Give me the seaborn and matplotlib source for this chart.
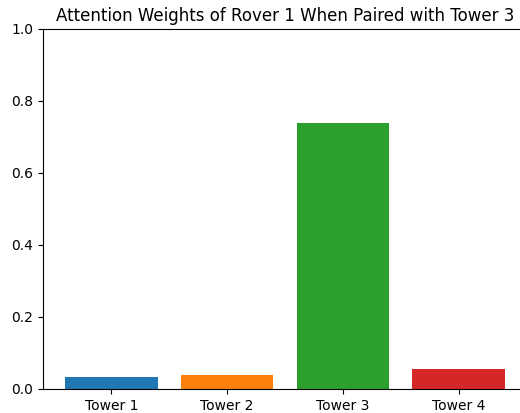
import matplotlib
matplotlib.use("Agg")
import matplotlib.pyplot as plt
import seaborn as sns
import pandas as pd

# data
towers = ["Tower 1", "Tower 2", "Tower 3", "Tower 4"]
weights = [0.033, 0.039, 0.739, 0.056]
colors = ["#1f77b4", "#ff7f0e", "#2ca02c", "#d62728"]

df = pd.DataFrame({"Tower": towers, "Weight": weights})

fig = plt.figure(figsize=(5.2, 4.13), dpi=100)
# axes runs a little past the right edge, like the cropped original
ax = fig.add_axes([43 / 520, 1 - 389 / 413, 484 / 520, 360 / 413])

sns.barplot(data=df, x="Tower", y="Weight", hue="Tower", palette=colors,
            saturation=1, width=0.8, legend=False, ax=ax)

ax.set_xlim(-0.59, 3.59)
ax.set_ylim(0, 1.0)
ax.set_yticks([0.0, 0.2, 0.4, 0.6, 0.8, 1.0])
ax.set_xlabel("")
ax.set_ylabel("")
ax.tick_params(labelsize=10)
ax.set_title("Attention Weights of Rover 1 When Paired with Tower 3", fontsize=12)

fig.savefig("out.png", dpi=100)
